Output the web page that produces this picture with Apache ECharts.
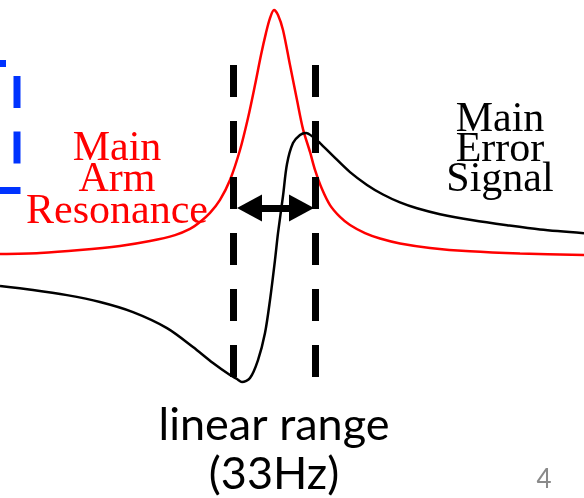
<!DOCTYPE html>
<html>
<head>
<meta charset="utf-8">
<script src="https://cdn.jsdelivr.net/npm/echarts@6/dist/echarts.min.js"></script>
<style>
  html, body { margin: 0; padding: 0; background: #ffffff; }
  #chart { width: 584px; height: 498px; }
</style>
</head>
<body>
<div id="chart"></div>
<script>
// Main arm transmitted power vs. detuning (Hz), normalised to the peak
const resonanceDetuning = [-109.6, -93.6, -77.6, -61.6, -49.6, -39.6, -33.6, -29.6, -25.6, -21.6,
  -17.6, -13.6, -10.4, -7.6, -5.2, -3.2, -1.6, 0, 1.6, 3.6, 6.4, 9.2, 11.6, 14.4, 16.4, 19.2,
  22.4, 26.4, 30.4, 36.4, 42.4, 50.4, 62.4, 78.4, 98.4, 124];
const resonancePower = [0.008, 0.012, 0.024, 0.041, 0.061, 0.085, 0.110, 0.138, 0.175, 0.228,
  0.309, 0.431, 0.561, 0.695, 0.817, 0.907, 0.967, 1.0, 0.980, 0.919, 0.776, 0.634, 0.516, 0.423,
  0.350, 0.272, 0.207, 0.159, 0.126, 0.093, 0.071, 0.051, 0.033, 0.019, 0.010, 0.004];

// Main error signal (PDH-style dispersion) vs. detuning (Hz)
const errorDetuning = [-109.6, -96.4, -82.8, -69.6, -56.4, -42.8, -32.4, -24.4, -17.6, -14.8,
  -12.8, -9.6, -6.4, -3.6, -1.6, 0.4, 1.6, 3.6, 5.2, 7.6, 10.4, 12.8, 15.6, 18.4, 23.6, 30.4,
  37.2, 43.6, 50.4, 57.2, 66.4, 79.6, 93.2, 106.4, 124];
const errorSignal = [-0.122, -0.138, -0.159, -0.187, -0.228, -0.293, -0.370, -0.435, -0.484, -0.500,
  -0.512, -0.496, -0.423, -0.313, -0.179, -0.016, 0.093, 0.244, 0.374, 0.459, 0.492, 0.500, 0.484,
  0.459, 0.407, 0.341, 0.289, 0.250, 0.218, 0.194, 0.170, 0.145, 0.125, 0.108, 0.093];

// Linear range of the error signal: 33 Hz wide
const linearRangeEdges = [-16.5, 16.5];
const linearRangeSpan = [0.776, -0.496];
const arrowLevel = 0.195;
const arrowEnds = [-9.8, 11.0];

const pairs = (xs, ys) => xs.map((x, i) => [x, ys[i]]);

const chart = echarts.init(document.getElementById('chart'), null, { renderer: 'canvas' });

chart.setOption({
  animation: false,
  backgroundColor: '#ffffff',
  grid: { left: 0, right: 0, top: 0, bottom: 0 },
  xAxis: { type: 'value', min: -109.6, max: 124, show: false },
  yAxis: { type: 'value', min: -0.9837, max: 1.0407, show: false },
  series: [
    {
      name: 'Main Arm Resonance',
      type: 'line',
      data: pairs(resonanceDetuning, resonancePower),
      smooth: 0.3,
      showSymbol: false,
      silent: true,
      lineStyle: { color: '#ff0000', width: 2.5 },
      z: 2
    },
    {
      name: 'Main Error Signal',
      type: 'line',
      data: pairs(errorDetuning, errorSignal),
      smooth: 0.3,
      showSymbol: false,
      silent: true,
      lineStyle: { color: '#000000', width: 2.5 },
      z: 3,
      markLine: {
        silent: true,
        symbol: 'none',
        label: { show: false },
        lineStyle: { color: '#000000', width: 7, type: [32, 24], cap: 'butt' },
        emphasis: { disabled: true },
        data: linearRangeEdges.map(x => [
          { coord: [x, linearRangeSpan[0]] },
          { coord: [x, linearRangeSpan[1]] }
        ])
      }
    },
    {
      name: 'linear range',
      type: 'line',
      data: [],
      silent: true,
      z: 4,
      markLine: {
        silent: true,
        symbol: ['triangle', 'triangle'],
        symbolSize: [27, 25],
        label: { show: false },
        emphasis: { disabled: true },
        lineStyle: { color: '#000000', width: 7, type: 'solid' },
        itemStyle: { color: '#000000' },
        data: [[
          { coord: [arrowEnds[0], arrowLevel] },
          { coord: [arrowEnds[1], arrowLevel] }
        ]]
      }
    }
  ],
  graphic: [
    {
      type: 'polyline',
      silent: true,
      shape: { points: [[-10, 63.5], [17, 63.5], [17, 190.5], [-10, 190.5]] },
      style: { stroke: '#0033ff', fill: null, lineWidth: 7, lineDash: [32, 23.5], lineDashOffset: 16, lineJoin: 'miter' }
    },
    {
      type: 'text',
      silent: true,
      x: 117, y: 133,
      style: {
        text: 'Main\nArm\nResonance',
        fill: '#ff0000',
        font: '42px "Liberation Serif", "Times New Roman", serif',
        align: 'center', verticalAlign: 'top',
        lineHeight: 31.5
      }
    },
    {
      type: 'text',
      silent: true,
      x: 500, y: 104.5,
      style: {
        text: 'Main\nError\nSignal',
        fill: '#000000',
        font: '42px "Liberation Serif", "Times New Roman", serif',
        align: 'center', verticalAlign: 'top',
        lineHeight: 30
      }
    },
    {
      type: 'text',
      silent: true,
      x: 274, y: 401,
      style: {
        text: 'linear range\n(33Hz)',
        fill: '#000000',
        font: '45px Lato, "Open Sans", sans-serif',
        align: 'center', verticalAlign: 'top',
        lineHeight: 49
      }
    },
    {
      type: 'text',
      silent: true,
      x: 544, y: 467,
      style: {
        text: '4',
        fill: '#8a8a8a',
        font: '26px Lato, "Open Sans", sans-serif',
        align: 'center', verticalAlign: 'top'
      }
    }
  ]
});
</script>
</body>
</html>
